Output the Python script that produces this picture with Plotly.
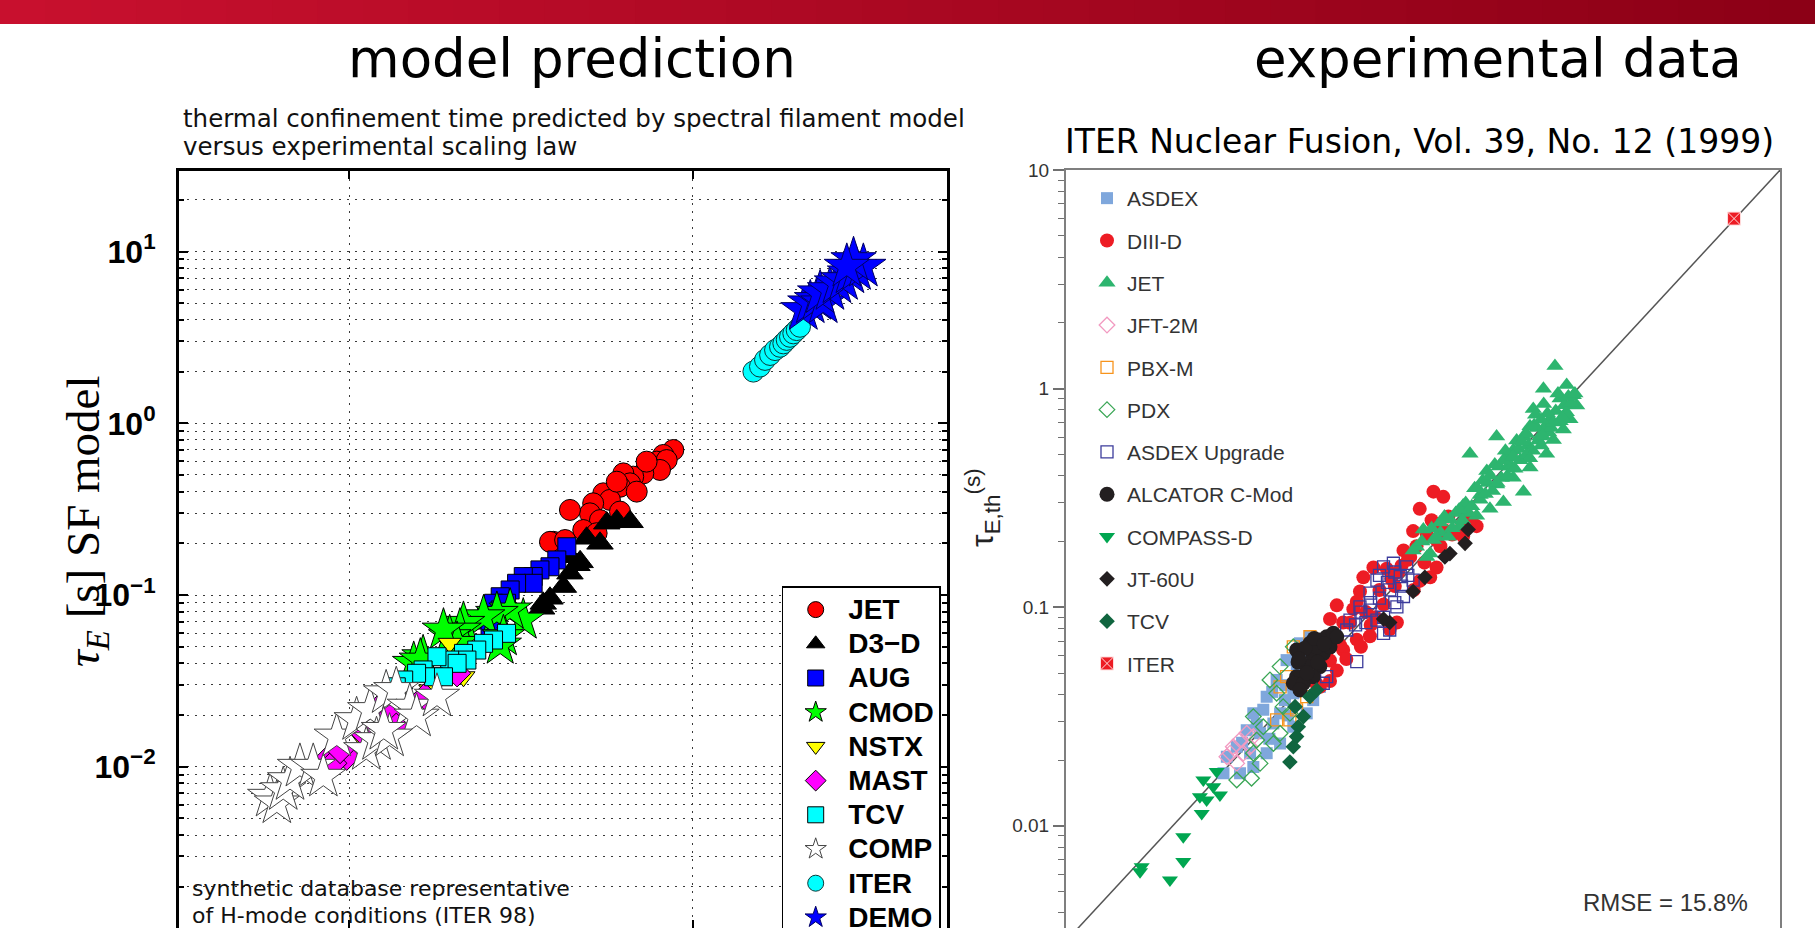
import plotly.graph_objects as go

W, H = 1815, 928

# ---------------- Left panel: SF model (y) vs scaling law (x) ----------------
left_names = ["JET", "D3\u2212D", "AUG", "CMOD", "NSTX", "MAST", "TCV", "COMP", "ITER", "DEMO"]

jet_x = [0.878, 0.821, 0.786, 0.840, 0.751, 0.803, 0.718, 0.671, 0.628, 0.657, 0.614, 0.687, 0.549,
         0.574, 0.513, 0.502, 0.439, 0.537, 0.480, 0.525, 0.393, 0.614, 0.601, 0.734, 0.384, 0.425]
jet_y = [0.699, 0.654, 0.598, 0.611, 0.559, 0.535, 0.511, 0.489, 0.511, 0.447, 0.427, 0.400, 0.391,
         0.358, 0.342, 0.299, 0.313, 0.273, 0.239, 0.229, 0.204, 0.306, 0.457, 0.598, 0.204, 0.209]

d3d_x = [0.657, 0.601, 0.562, 0.537, 0.491, 0.470, 0.439, 0.439, 0.420, 0.384, 0.367, 0.363, 0.460]
d3d_y = [0.267, 0.270, 0.262, 0.200, 0.214, 0.156, 0.167, 0.134, 0.112, 0.0957, 0.0894, 0.0837, 0.150]

aug_x = [0.430, 0.402, 0.384, 0.359, 0.343, 0.321, 0.343, 0.307, 0.294, 0.275, 0.263, 0.251, 0.246,
         0.257, 0.275, 0.287]
aug_y = [0.191, 0.160, 0.146, 0.140, 0.128, 0.128, 0.117, 0.117, 0.107, 0.0977, 0.0895, 0.0747, 0.0715,
         0.0654, 0.0818, 0.0895]

cmod_x = [0.321, 0.294, 0.269, 0.246, 0.215, 0.210, 0.196, 0.206, 0.164, 0.154, 0.281, 0.188, 0.161, 0.275]
cmod_y = [0.0715, 0.0818, 0.0782, 0.0747, 0.0684, 0.0625, 0.0572, 0.0523, 0.0437, 0.0400, 0.0572, 0.0625,
          0.0418, 0.0511]

nstx_x = [0.215, 0.196, 0.206, 0.172, 0.150, 0.123, 0.107]
nstx_y = [0.0334, 0.0523, 0.0366, 0.0280, 0.0214, 0.0187, 0.0153]

mast_x = [0.0879, 0.0983, 0.0898, 0.0940, 0.123, 0.131, 0.137, 0.110, 0.166, 0.206]
mast_y = [0.01143, 0.01143, 0.01047, 0.01251, 0.0224, 0.0196, 0.0171, 0.0157, 0.0256, 0.0350]

tcv_x = [0.287, 0.263, 0.246, 0.235, 0.215, 0.220, 0.196, 0.180, 0.206, 0.164, 0.176, 0.188, 0.157,
         0.144, 0.137]
tcv_y = [0.0598, 0.0547, 0.0523, 0.0478, 0.0457, 0.0418, 0.0418, 0.0437, 0.0400, 0.0366, 0.0334, 0.0334,
         0.0350, 0.0320, 0.0292]

comp_x = [0.0588, 0.0615, 0.0642, 0.0672, 0.0718, 0.0785, 0.0840, 0.0919, 0.105, 0.115, 0.128, 0.137,
          0.150, 0.157, 0.180, 0.112, 0.120, 0.131, 0.126]
comp_y = [0.00669, 0.00612, 0.00731, 0.00836, 0.0100, 0.0100, 0.00875, 0.0150, 0.0187, 0.0214, 0.0268,
          0.0280, 0.0224, 0.0196, 0.0256, 0.01251, 0.0143, 0.0150, 0.0164]

iter_x = [1.502, 1.570, 1.624, 1.680, 1.737, 1.796, 1.836, 1.878, 1.920, 1.963, 2.008, 2.053]
iter_y = [2.00, 2.14, 2.34, 2.50, 2.67, 2.79, 2.92, 3.06, 3.19, 3.34, 3.49, 3.65]

demo_x = [2.10, 2.20, 2.30, 2.40, 2.35, 2.51, 2.63, 2.75, 2.87, 3.00, 3.14, 2.94, 2.81]
demo_y = [4.57, 5.00, 5.23, 5.00, 5.72, 5.97, 6.54, 6.83, 7.47, 7.81, 8.17, 8.93, 8.17]

left_y_ticks = [0.001, 0.01, 0.1, 1, 10]
left_y_ticktext = ["10<sup>\u22123</sup>", "10<sup>\u22122</sup>", "10<sup>\u22121</sup>",
                   "10<sup>0</sup>", "10<sup>1</sup>"]
left_x_ticks = [0.1, 1]

# ---------------- Right panel: ITER98 database ----------------
right_names = ["ASDEX", "DIII-D", "JET", "JFT-2M", "PBX-M", "PDX", "ASDEX Upgrade",
               "ALCATOR C-Mod", "COMPASS-D", "JT-60U", "TCV", "ITER"]

asdex_x = [0.0178, 0.0185, 0.0207, 0.0232, 0.0250, 0.0291, 0.0326, 0.0365, 0.0425, 0.0476, 0.0533,
           0.0494, 0.0459, 0.0394, 0.0339, 0.0291, 0.0250, 0.0215, 0.0339, 0.0270, 0.0394, 0.0241,
           0.0314, 0.0358, 0.028, 0.031, 0.036, 0.041, 0.022, 0.026, 0.044, 0.030, 0.037]
asdex_y = [0.0174, 0.0207, 0.0230, 0.0274, 0.0327, 0.0390, 0.0465, 0.0573, 0.0684, 0.0733, 0.0432,
           0.0376, 0.0327, 0.0284, 0.0238, 0.0215, 0.0186, 0.0174, 0.0327, 0.0265, 0.0404, 0.0215,
           0.0294, 0.0376, 0.034, 0.041, 0.044, 0.052, 0.024, 0.029, 0.060, 0.025, 0.032]

diiid_x = [0.194, 0.217, 0.166, 0.154, 0.317, 0.272, 0.201, 0.138, 0.0980, 0.0874, 0.187, 0.201, 0.0841,
           0.0646, 0.0695, 0.0598, 0.0811, 0.0695, 0.0598, 0.0646, 0.0598, 0.0514, 0.128, 0.118, 0.0942,
           0.0811, 0.166, 0.0533, 0.114, 0.149,
           0.075, 0.090, 0.105, 0.120, 0.135, 0.175, 0.210, 0.240, 0.270, 0.300, 0.062, 0.072, 0.085,
           0.100, 0.155, 0.130, 0.230, 0.190,
           0.078, 0.110, 0.125, 0.160, 0.180, 0.220, 0.260, 0.290, 0.067, 0.095, 0.145, 0.205]
diiid_y = [0.338, 0.320, 0.282, 0.223, 0.235, 0.211, 0.203, 0.182, 0.152, 0.137, 0.137, 0.152, 0.118,
           0.102, 0.0852, 0.0883, 0.0711, 0.0637, 0.0571, 0.0513, 0.0460, 0.0444, 0.0852, 0.0793, 0.0737,
           0.106, 0.132, 0.0432, 0.150, 0.170,
           0.085, 0.095, 0.120, 0.135, 0.155, 0.160, 0.190, 0.215, 0.240, 0.255, 0.075, 0.058, 0.066,
           0.090, 0.120, 0.145, 0.260, 0.250,
           0.098, 0.103, 0.125, 0.190, 0.215, 0.225, 0.220, 0.245, 0.067, 0.083, 0.165, 0.240]

jetr_x = [0.773, 0.678, 0.883, 0.952, 0.819, 0.604, 0.731, 0.917, 0.850, 0.398, 0.540, 0.652, 0.703,
          0.294, 0.447, 0.582, 0.356, 0.481, 0.398, 0.540, 0.330, 0.430, 0.272, 0.369, 0.317, 0.234,
          0.209, 0.262, 0.173, 0.194, 0.160, 0.187, 0.154, 0.990, 0.759, 0.582, 0.481,
          0.31, 0.36, 0.41, 0.46, 0.51, 0.57, 0.63, 0.69, 0.78, 0.86, 0.64, 0.72, 0.25, 0.21,
          0.19, 0.22, 0.24, 0.28, 0.29, 0.33, 0.34, 0.38, 0.39, 0.42, 0.44, 0.47, 0.50, 0.52,
          0.56, 0.60, 0.62, 0.66, 0.68, 0.74, 0.80, 0.82, 0.88, 0.93, 0.56, 0.45,
          0.17, 0.18, 0.20, 0.23, 0.26, 0.27, 0.30, 0.32, 0.35, 0.37, 0.40, 0.43, 0.48, 0.49,
          0.53, 0.58, 0.61, 0.67, 0.71, 0.76, 0.84, 0.90, 0.97, 0.66]
jetr_y = [1.27, 1.00, 1.04, 0.934, 0.901, 0.807, 0.724, 0.724, 0.650, 0.604, 0.604, 0.604, 0.504,
          0.504, 0.486, 0.436, 0.420, 0.391, 0.364, 0.338, 0.326, 0.303, 0.292, 0.282, 0.262, 0.253,
          0.244, 0.235, 0.227, 0.203, 0.189, 0.176, 0.182, 0.838, 0.582, 0.674, 0.523,
          0.35, 0.37, 0.44, 0.45, 0.53, 0.55, 0.66, 0.67, 0.79, 0.84, 0.58, 0.63, 0.27, 0.22,
          0.23, 0.26, 0.23, 0.30, 0.27, 0.31, 0.38, 0.34, 0.45, 0.39, 0.52, 0.44, 0.58, 0.47,
          0.62, 0.52, 0.76, 0.55, 0.85, 0.66, 0.95, 0.71, 0.78, 0.86, 0.50, 0.40,
          0.20, 0.17, 0.21, 0.21, 0.28, 0.25, 0.29, 0.35, 0.33, 0.40, 0.37, 0.47, 0.49, 0.43,
          0.57, 0.48, 0.68, 0.61, 0.77, 0.70, 0.74, 0.92, 0.95, 0.72]

jft_x = [0.0185, 0.0199, 0.0215, 0.0232, 0.0223, 0.0207, 0.0241, 0.0250, 0.0192]
jft_y = [0.0207, 0.0230, 0.0247, 0.0265, 0.0215, 0.0193, 0.0230, 0.0256, 0.0215]

pbxm_x = [0.0476, 0.0394, 0.0365, 0.0409, 0.0379, 0.0339, 0.0459, 0.0326]
pbxm_y = [0.0733, 0.0659, 0.0481, 0.0339, 0.0305, 0.0432, 0.0390, 0.0305]

pdx_x = [0.0207, 0.0245, 0.0270, 0.0250, 0.0260, 0.0250, 0.0280, 0.0314, 0.0339, 0.0379, 0.0302,
         0.0339, 0.0394, 0.0326, 0.0351]
pdx_y = [0.0162, 0.0165, 0.0193, 0.0215, 0.0247, 0.0316, 0.0284, 0.0238, 0.0265, 0.0327, 0.0465,
         0.0535, 0.0659, 0.0404, 0.0351]

augr_x = [0.110, 0.123, 0.143, 0.154, 0.102, 0.0943, 0.118, 0.138, 0.0841, 0.0751, 0.102, 0.118, 0.110,
          0.0943, 0.0576, 0.0554, 0.0811, 0.0723, 0.128, 0.133,
          0.105, 0.115, 0.125, 0.135, 0.095, 0.085, 0.090, 0.105, 0.125, 0.145, 0.080, 0.110]
augr_y = [0.153, 0.159, 0.153, 0.133, 0.133, 0.116, 0.120, 0.112, 0.1005, 0.0874, 0.0874, 0.0787,
          0.0760, 0.0970, 0.0481, 0.0449, 0.0564, 0.0787, 0.1005, 0.138,
          0.140, 0.130, 0.145, 0.125, 0.105, 0.095, 0.085, 0.110, 0.105, 0.140, 0.083, 0.090]

cmodr_x = [0.0409, 0.0476, 0.0533, 0.0576, 0.0621, 0.0494, 0.0554, 0.0459, 0.0533, 0.0409, 0.0394,
           0.0442, 0.0494, 0.0425, 0.0598, 0.0646, 0.0514, 0.0416, 0.045, 0.050, 0.056, 0.042, 0.046,
           0.052]
cmodr_y = [0.0637, 0.0684, 0.0708, 0.0733, 0.0760, 0.0594, 0.0615, 0.0535, 0.0535, 0.0481, 0.0449,
           0.0449, 0.0481, 0.0418, 0.0659, 0.0733, 0.0659, 0.0561, 0.065, 0.072, 0.068, 0.058, 0.050,
           0.056]

compass_x = [0.00702, 0.00689, 0.00968, 0.01127, 0.01127, 0.01390, 0.01470, 0.01361, 0.01710, 0.01416,
             0.01648, 0.01585]
compass_y = [0.00650, 0.00617, 0.00565, 0.00686, 0.00891, 0.01140, 0.01313, 0.01359, 0.01384, 0.01622,
             0.01770, 0.01510]

jt60_x = [0.288, 0.278, 0.234, 0.221, 0.176, 0.154, 0.118, 0.110]
jt60_y = [0.227, 0.196, 0.176, 0.170, 0.137, 0.118, 0.0852, 0.0883]

tcvr_x = [0.0476, 0.0402, 0.0442, 0.0417, 0.0409, 0.0394, 0.0379, 0.0514]
tcvr_y = [0.0390, 0.0351, 0.0316, 0.0284, 0.0256, 0.0230, 0.0196, 0.0418]

iterr_x = [5.93]
iterr_y = [6.0]

diag = [0.001, 10]

right_y_ticks = [0.01, 0.1, 1, 10]
right_y_ticktext = ["0.01", "0.1", "1", "10"]

# ---------------- Figure ----------------
fig = go.Figure()

left_series = [
    (jet_x, jet_y, "circle", "#ff0000", 21, "black"),
    (d3d_x, d3d_y, "triangle-up", "#000000", 23, "black"),
    (aug_x, aug_y, "square", "#0000ff", 18, "black"),
    (cmod_x, cmod_y, "star", "#00ff00", 32, "black"),
    (nstx_x, nstx_y, "triangle-down", "#ffff00", 20, "black"),
    (mast_x, mast_y, "diamond", "#ff00ff", 21, "black"),
    (tcv_x, tcv_y, "square", "#00ffff", 18, "black"),
    (comp_x, comp_y, "star", "#ffffff", 34, "#444444"),
    (iter_x, iter_y, "circle", "#00ffff", 21, "#0a3a3a"),
    (demo_x, demo_y, "star", "#0000ff", 34, "#000060"),
]
for name, (xs, ys, sym, col, sz, lc) in zip(left_names, left_series):
    fig.add_trace(go.Scatter(
        x=xs, y=ys, mode="markers", xaxis="x", yaxis="y", legend="legend",
        name='<span style="font-size:28px">%s</span>' % name,
        marker=dict(symbol=sym, color=col, size=sz, line=dict(color=lc, width=1)),
    ))

fig.add_trace(go.Scatter(
    x=diag, y=diag, mode="lines", xaxis="x2", yaxis="y2", showlegend=False,
    line=dict(color="#555555", width=1.5),
))

right_series = [
    (asdex_x, asdex_y, "square", "#7fa7dc", 12, "#7fa7dc", 0),
    (diiid_x, diiid_y, "circle", "#ed1c24", 14, "#ed1c24", 0),
    (jetr_x, jetr_y, "triangle-up", "#2db56f", 15, "#2db56f", 0),
    (jft_x, jft_y, "diamond-open", "#f29ac1", 12, "#f29ac1", 1.3),
    (pbxm_x, pbxm_y, "square-open", "#f7941d", 12, "#f7941d", 1.3),
    (pdx_x, pdx_y, "diamond-open", "#3aa655", 12, "#3aa655", 1.3),
    (augr_x, augr_y, "square-open", "#3c3c9c", 12, "#3c3c9c", 1.3),
    (cmodr_x, cmodr_y, "circle", "#231f20", 15, "#231f20", 0),
    (compass_x, compass_y, "triangle-down", "#00a650", 14, "#00a650", 0),
    (jt60_x, jt60_y, "diamond", "#231f20", 12, "#231f20", 0),
    (tcvr_x, tcvr_y, "diamond", "#10653f", 12, "#10653f", 0),
    (iterr_x, iterr_y, "square-x", "#ed1c24", 13, "#ffdddd", 1),
]
for name, (xs, ys, sym, col, sz, lc, lw) in zip(right_names, right_series):
    fig.add_trace(go.Scatter(
        x=xs, y=ys, mode="markers", name=name, xaxis="x2", yaxis="y2", legend="legend2",
        legendgroup=name,
        marker=dict(symbol=sym, color=col, size=sz, line=dict(color=lc, width=lw)),
    ))

GRID_DASH = "2px,6px"
GRID_COL = "#3a3a3a"
left_minor = [m * 10.0 ** e for e in range(-3, 2) for m in range(2, 10)]

fig.update_layout(
    width=W, height=H,
    margin=dict(l=0, r=0, t=0, b=0, autoexpand=False),
    paper_bgcolor="white", plot_bgcolor="white",
    font=dict(family="Liberation Sans", color="black"),
    xaxis=dict(
        domain=[179 / W, 947 / W], type="log", range=[-1.496, 0.7405], anchor="y",
        showline=True, linecolor="black", linewidth=3, mirror="ticks",
        ticks="inside", ticklen=8, tickwidth=2, tickcolor="black",
        tickmode="array", tickvals=left_x_ticks, showticklabels=False,
        showgrid=True, gridcolor=GRID_COL, gridwidth=1, griddash=GRID_DASH, zeroline=False,
    ),
    yaxis=dict(
        domain=[0, 1 - 171 / H], type="log", range=[-2.9394, 1.4694], anchor="x",
        showline=True, linecolor="black", linewidth=3, mirror="ticks",
        ticks="inside", ticklen=9, tickwidth=2, tickcolor="black",
        tickmode="array", tickvals=left_y_ticks, ticktext=left_y_ticktext,
        tickfont=dict(family="Liberation Sans", size=32, color="black", weight="bold"),
        ticklabelstandoff=14,
        showgrid=True, gridcolor=GRID_COL, gridwidth=1, griddash=GRID_DASH, zeroline=False,
        minor=dict(tickmode="array", tickvals=left_minor, ticks="inside", ticklen=5,
                   tickwidth=1.5, tickcolor="black", showgrid=True, gridcolor=GRID_COL,
                   gridwidth=1, griddash=GRID_DASH),
    ),
    xaxis2=dict(
        domain=[1065.7 / W, 1780 / W], type="log", range=[-2.529, 1.0], anchor="y2",
        showline=True, linecolor="#7f7f7f", linewidth=1.5, mirror=True,
        ticks="", showticklabels=False, showgrid=False, zeroline=False,
    ),
    yaxis2=dict(
        domain=[0, 1 - 170 / H], type="log", range=[-2.4675, 1.0005], anchor="x2",
        showline=True, linecolor="#7f7f7f", linewidth=1.5, mirror=True,
        ticks="outside", ticklen=11, tickwidth=1.5, tickcolor="#707070",
        tickmode="array", tickvals=right_y_ticks, ticktext=right_y_ticktext,
        tickfont=dict(family="Liberation Sans", size=19, color="#333333"),
        showgrid=False, zeroline=False,
        minor=dict(tickmode="array", tickvals=left_minor, ticks="outside", ticklen=6,
                   tickwidth=1.2, tickcolor="#707070", showgrid=False),
    ),
    legend=dict(
        x=781.7 / W, y=1 - 586 / H, xanchor="left", yanchor="top",
        bgcolor="white", bordercolor="black", borderwidth=1.5,
        font=dict(family="Liberation Sans", size=24, color="black", weight="bold"),
        itemwidth=55, tracegroupgap=0,
    ),
    legend2=dict(
        x=1087 / W, y=1 - 178 / H, xanchor="left", yanchor="top",
        bgcolor="rgba(0,0,0,0)", borderwidth=0,
        font=dict(family="Liberation Sans", size=21, color="#333333"),
        itemwidth=30, tracegroupgap=12, traceorder="grouped",
    ),
)

# Red banner (gradient approximated by strips)
N = 40
c0, c1 = (200, 16, 46), (140, 0, 22)
for i in range(N):
    t = i / (N - 1)
    col = "rgb(%d,%d,%d)" % tuple(round(a + (b - a) * t) for a, b in zip(c0, c1))
    fig.add_shape(type="rect", xref="paper", yref="paper",
                  x0=i / N, x1=(i + 1) / N + 0.002, y0=1 - 24 / H, y1=1,
                  fillcolor=col, line=dict(width=0), layer="above")


def ann(text, px, py, size, family="DejaVu Sans", color="black", xanchor="left",
        yanchor="middle", angle=0):
    fig.add_annotation(text=text, x=px / W, y=1 - py / H, xref="paper", yref="paper",
                       showarrow=False, xanchor=xanchor, yanchor=yanchor, textangle=angle,
                       font=dict(family=family, size=size, color=color))


ann("model prediction", 571.5, 58, 53, xanchor="center")
ann("experimental data", 1497.5, 58, 53, xanchor="center")
ann("thermal confinement time predicted by spectral filament model", 181, 118, 24.5, color="#111111")
ann("versus experimental scaling law", 181, 146, 24.5, color="#111111")
ann("synthetic database representative", 190, 888, 22, color="#111111")
ann("of H-mode conditions (ITER 98)", 190, 915, 22, color="#111111")
ann("ITER Nuclear Fusion, Vol. 39, No. 12 (1999)", 1419, 141.7, 33, xanchor="center")
ann("RMSE = 15.8%", 1581, 902.7, 24, family="Liberation Sans", color="#333333")
ann("<i>\u03c4<sub>E</sub></i> [s] SF model", 86, 521, 47, family="Liberation Serif",
    xanchor="center", angle=-90)
ann("\u03c4<sub>E,th</sub><sup>(s)</sup>", 982, 508, 32, family="Liberation Sans",
    color="#222222", xanchor="center", angle=-90)

fig.write_html("out.html", config={"displayModeBar": False},
               post_script="document.body.style.margin='0';document.body.style.overflow='hidden';")
